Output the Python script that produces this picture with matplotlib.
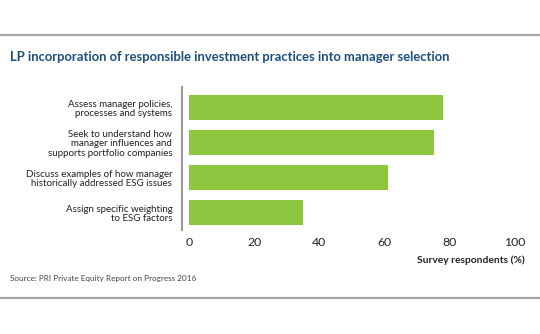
import matplotlib
matplotlib.use("Agg")
import matplotlib.pyplot as plt
from matplotlib.lines import Line2D

plt.rcParams['font.family'] = ['Lato', 'DejaVu Sans']

categories = [
    "Assess manager policies,\nprocesses and systems",
    "Seek to understand how\nmanager influences and\nsupports portfolio companies",
    "Discuss examples of how manager\nhistorically addressed ESG issues",
    "Assign specific weighting\nto ESG factors",
]
values = [78, 75, 61, 35]
xticks = [0, 20, 40, 60, 80, 100]

W, H = 540, 334
fig = plt.figure(figsize=(W / 100, H / 100), dpi=100)

# horizontal rules framing the panel
for yp in (35, 298):
    fig.add_artist(Line2D([0, 1], [1 - yp / H] * 2, color='#a6a6a6', lw=1.6,
                          transform=fig.transFigure))

fig.text(10 / W, 1 - 57 / H, "LP incorporation of responsible investment practices into manager selection",
         color='#1d4f7c', fontsize=9.4, fontweight='bold', va='center', ha='left')
fig.text(10 / W, 1 - 278 / H, "Source: PRI Private Equity Report on Progress 2016",
         color='#444444', fontsize=5.85, va='center', ha='left')

ax = fig.add_axes([189 / W, 1 - 230 / H, 326 / W, 143 / H])
pos = list(range(len(values)))
ax.barh(pos, values, height=25 / 35, color='#8dc63f')
ax.set_xlim(0, 100)
ax.set_ylim(3.5, -0.586)

for s in ('top', 'right', 'bottom'):
    ax.spines[s].set_visible(False)
ax.spines['left'].set_position(('outward', 5))
ax.spines['left'].set_color('#9a9a9a')
ax.spines['left'].set_linewidth(1.5)

ax.set_xticks(xticks)
ax.set_xticklabels([str(t) for t in xticks], fontsize=8.8, color='#222222')
ax.tick_params(axis='x', length=0, pad=5)
ax.set_yticks(pos)
ax.set_yticklabels(categories, fontsize=7.0, color='#222222', linespacing=1.05)
ax.tick_params(axis='y', length=0, pad=7)

ax.set_xlabel("Survey respondents (%)", fontsize=7.4, fontweight='bold', color='#222222')
ax.xaxis.set_label_coords(1.03, -0.175)
ax.xaxis.label.set_ha('right')

fig.savefig("out.png", dpi=100, facecolor='white')
